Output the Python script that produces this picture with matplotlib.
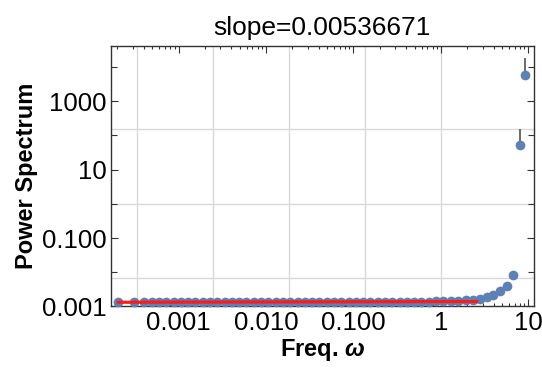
import numpy as np
import matplotlib
matplotlib.use('Agg')
import matplotlib.pyplot as plt
from matplotlib.ticker import FixedLocator, FixedFormatter, NullFormatter

plt.rcParams['font.family'] = ['Liberation Sans', 'DejaVu Sans']
plt.rcParams['mathtext.fontset'] = 'custom'
plt.rcParams['mathtext.bfit'] = 'Liberation Sans:bold:italic'
plt.rcParams['mathtext.bf'] = 'Liberation Sans:bold'

# binned frequencies and power
freq = [2.05e-4, 3.12e-4, 4.06e-4, 4.94e-4, 5.98e-4, 7.24e-4, 8.79e-4,
        1.064e-3, 1.288e-3, 1.563e-3, 1.892e-3, 2.291e-3, 2.780e-3, 3.365e-3,
        4.074e-3, 4.943e-3, 5.984e-3, 7.244e-3, 8.79e-3, 1.064e-2, 1.288e-2,
        1.563e-2, 1.892e-2, 2.291e-2, 2.780e-2, 3.365e-2, 4.074e-2, 4.943e-2,
        5.984e-2, 7.244e-2, 8.79e-2, 0.1064, 0.1288, 0.1563, 0.1892, 0.2291,
        0.2780, 0.3365, 0.4074, 0.4943, 0.5984, 0.7244, 0.879, 1.064, 1.300,
        1.578, 1.914, 2.301, 2.793, 3.327, 3.899, 4.721, 5.636, 6.699, 8.000,
        9.183]
power = [0.00136, 0.00137, 0.00137, 0.00138, 0.00137, 0.00138, 0.00138,
         0.00137, 0.00138, 0.00138, 0.00138, 0.00137, 0.00138, 0.00138,
         0.00138, 0.00138, 0.00138, 0.00139, 0.00138, 0.00138, 0.00138,
         0.00139, 0.00138, 0.00139, 0.00138, 0.00139, 0.00139, 0.00138,
         0.00139, 0.00139, 0.00139, 0.00139, 0.00139, 0.00139, 0.00139, 0.00139,
         0.00139, 0.00139, 0.00139, 0.00139, 0.00139, 0.00139, 0.00140, 0.00140, 0.00141,
         0.00147, 0.00151, 0.00158, 0.00170, 0.00190, 0.00220, 0.00275, 0.00400,
         0.00860, 53.0, 5840.0]
# upper ends of the error bars on the last two points
err_freq = [8.000, 9.183]
err_low = [53.0, 5840.0]
err_high = [155.0, 18300.0]

# fitted power law
slope = 0.00536671
fit_amp = 0.00139
fit_range = [2.05e-4, 2.56]

blue = '#5E81B5'
dark = '#333333'

fig = plt.figure(figsize=(5.42, 3.69), dpi=100)
ax = fig.add_axes([0.2039, 0.1694, 0.7813, 0.7059])
ax.set_xscale('log')
ax.set_yscale('log')
ax.set_xlim(1.67e-4, 11.56)
ax.set_ylim(1e-3, 10 ** 4.61)

# grid lines sit at powers of e
for g in [np.exp(-8), np.exp(-6), np.exp(-4), np.exp(-2), 1.0]:
    ax.axvline(g, color='#d9d9d9', lw=1, zorder=0)
for g in [np.exp(-5), 1.0, np.exp(5)]:
    ax.axhline(g, color='#d9d9d9', lw=1, zorder=0)

ax.vlines(err_freq, err_low, err_high, color='#444444', lw=1.1, zorder=2)
ax.plot(freq, power, 'o', color=blue, ms=7, mec='none', zorder=3, clip_on=False)
fx = np.array(fit_range)
ax.plot(fx, fit_amp * fx ** slope, color='#ff1a1a', lw=2.3, zorder=4)

xmaj = [1e-3, 1e-2, 1e-1, 1, 10]
ax.xaxis.set_major_locator(FixedLocator(xmaj))
ax.xaxis.set_major_formatter(FixedFormatter(['0.001', '0.010', '0.100', '1', '10']))
xmin = [m * 10.0 ** e for e in range(-4, 2) for m in range(2, 10)]
ax.xaxis.set_minor_locator(FixedLocator(xmin))
ax.xaxis.set_minor_formatter(NullFormatter())

ax.yaxis.set_major_locator(FixedLocator([1e-3, 1e-1, 1e1, 1e3]))
ax.yaxis.set_major_formatter(FixedFormatter(['0.001', '0.100', '10', '1000']))
ax.yaxis.set_minor_locator(FixedLocator([1e-2, 1, 1e2, 1e4]))
ax.yaxis.set_minor_formatter(NullFormatter())

ax.tick_params(which='both', direction='in', top=True, right=True,
               color=dark, width=0.8, labelsize=18.5, pad=3)
ax.tick_params(axis='x', which='major', length=5)
ax.tick_params(axis='x', which='minor', length=2.5)
ax.tick_params(axis='y', which='major', length=5)
ax.tick_params(axis='y', which='minor', length=4)
for s in ax.spines.values():
    s.set_color(dark)
    s.set_linewidth(1)

ax.set_xlabel(r'Freq. $\mathbfit{\omega}$', fontsize=17, fontweight='bold', labelpad=2)
ax.set_ylabel('Power Spectrum', fontsize=17, fontweight='bold', labelpad=3)
ax.set_title('slope=0.00536671', fontsize=19, pad=8)

fig.savefig('out.png', dpi=100)
